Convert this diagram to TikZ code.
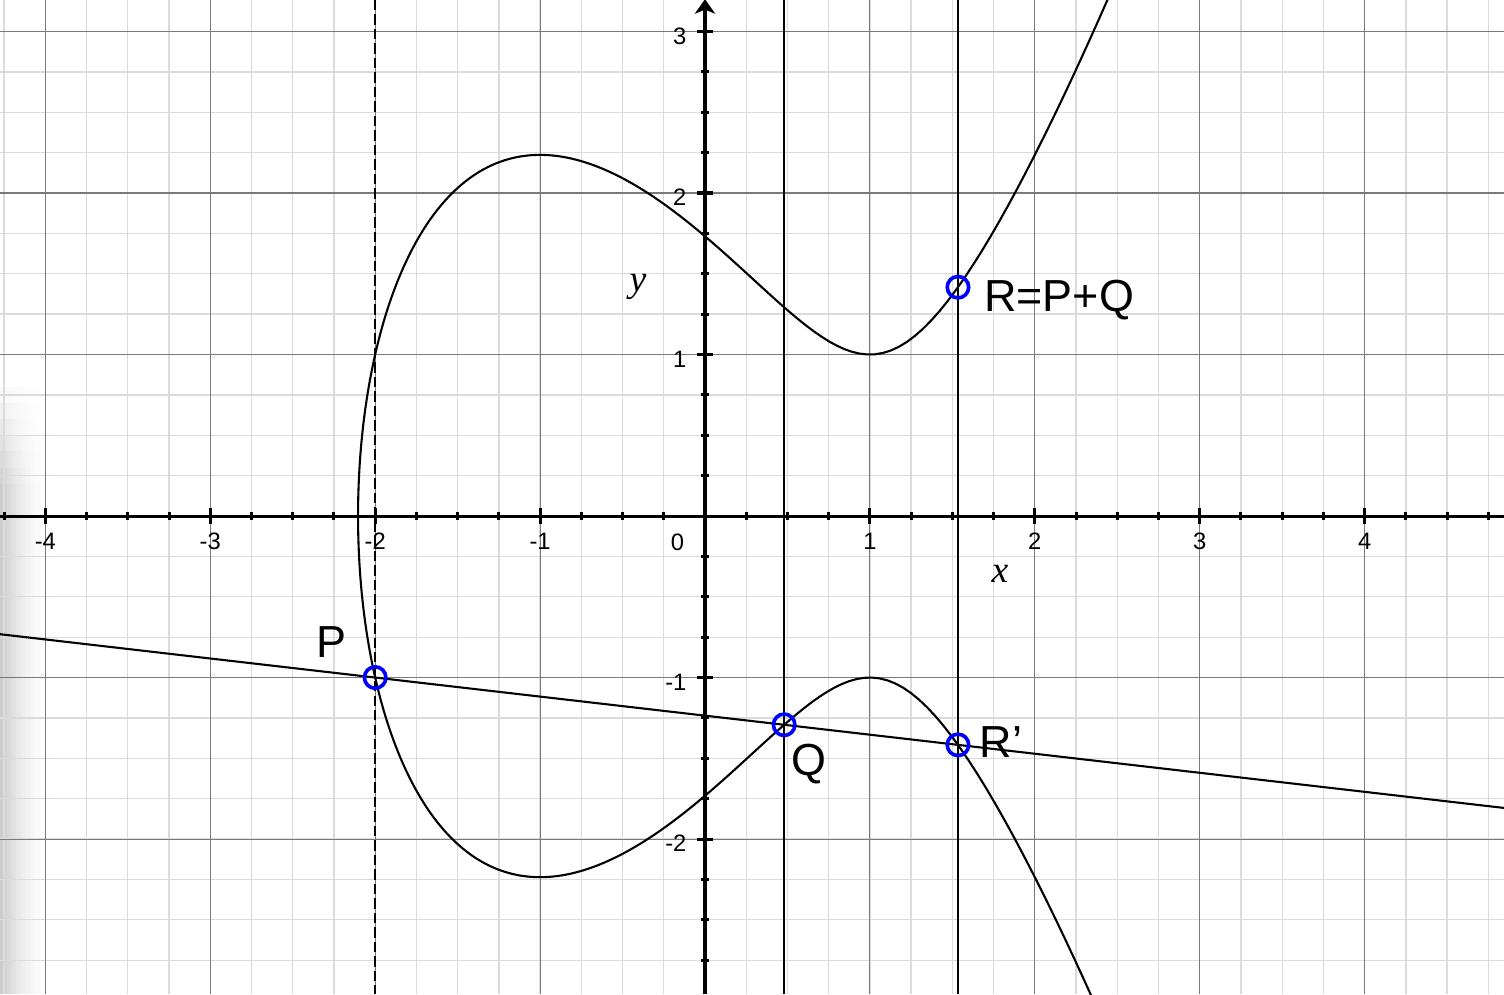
\documentclass[tikz,border=0pt]{standalone}
\usepackage{fontspec}
\setmainfont{Liberation Sans}
\newfontfamily\timesit{Liberation Serif}
\usetikzlibrary{arrows.meta}
\begin{document}
\begin{tikzpicture}[x=2cm,y=1.95876cm,
  declare function={fy(\x)=sqrt(max(\x*\x*\x-3*\x+3,0));},
  minorgrid/.style={draw=black!14,line width=0.45pt},
  majorgrid/.style={draw=black!52,line width=0.35pt},
  axisline/.style={line width=1.05pt},
  tickmark/.style={line width=1.05pt},
  curveline/.style={line width=0.72pt},
  vline/.style={line width=0.7pt},
  ptmark/.style={circle,draw=blue,line width=1.25pt,minimum size=7.4pt,inner sep=0pt},
  bigl/.style={font=\fontsize{15.5}{18}\selectfont,inner sep=0pt},
  tickl/.style={font=\fontsize{8.2}{10}\selectfont,inner sep=0pt},
  axl/.style={font=\fontsize{13}{15}\selectfont\timesit\itshape,inner sep=0pt}]
\useasboundingbox (-4.275,-2.96) rectangle (4.845,3.195);
\clip (-4.275,-2.96) rectangle (4.845,3.195);
% page shadow on the left edge (strips of decreasing grey)
\foreach \i in {0,...,15} {
  \pgfmathsetmacro{\xa}{-4.275+\i*0.02}
  \pgfmathsetmacro{\xb}{\xa+0.0205}
  \pgfmathsetmacro{\cv}{20*(1-\i/16)^2}
  \fill[black!\cv] (\xa,-2.96) rectangle (\xb,0.2);
  \foreach \j in {1,...,6} {
    \pgfmathsetmacro{\ya}{0.2+(\j-1)*0.1}
    \pgfmathsetmacro{\yb}{\ya+0.101}
    \pgfmathsetmacro{\cw}{\cv*(1-\j/7)}
    \fill[black!\cw] (\xa,\ya) rectangle (\xb,\yb);
  }
}
% grid
\draw[minorgrid,step=0.25] (-4.275,-2.96) grid (4.845,3.195);
\draw[majorgrid,step=1] (-4.275,-2.96) grid (4.845,3.195);
% named coordinates
\coordinate (VPt) at (-2,3.195);  \coordinate (VPb) at (-2,-2.96);
\coordinate (VQt) at (0.48,3.195); \coordinate (VQb) at (0.48,-2.96);
\coordinate (VRt) at (1.53391,3.195); \coordinate (VRb) at (1.53391,-2.96);
\coordinate (L1) at (-4.275,-0.73167); \coordinate (L2) at (4.845,-1.80735);
\coordinate (XA) at (-4.275,0); \coordinate (XB) at (4.845,0);
\coordinate (YA) at (0,-2.96); \coordinate (YB) at (0,3.2);
% vertical lines
\draw[vline,dash pattern=on 3.6pt off 1.4pt] (VPt) -- (VPb);
\draw[vline] (VQt) -- (VQb);
\draw[vline] (VRt) -- (VRb);
% elliptic curve y^2 = x^3 - 3x + 3
\draw[curveline] plot[domain=2.11:0,samples=160,variable=\t] ({-2.1038+\t*\t},{-fy(-2.1038+\t*\t)})
  -- plot[domain=0:2.135,samples=160,variable=\t] ({-2.1038+\t*\t},{fy(-2.1038+\t*\t)});
% secant line
\draw[curveline] (L1) -- (L2);
% axes
\draw[axisline] (XA) -- (XB);
\draw[axisline,-{Stealth[length=5pt,width=7pt,inset=1.4pt]}] (YA) -- (YB);
\foreach \i in {-17,...,19} \draw[tickmark] (\i/4,0) ++(0,-1.4pt) -- ++(0,2.8pt);
\foreach \k in {-4,-3,-2,-1,1,2,3,4} \draw[tickmark] (\k,0) ++(0,-2.6pt) -- ++(0,5.2pt);
\foreach \i in {-11,...,12} \draw[tickmark] (0,\i/4) ++(-1.4pt,0) -- ++(2.8pt,0);
\foreach \k in {-2,-1,1,2,3} \draw[tickmark] (0,\k) ++(-2.6pt,0) -- ++(5.2pt,0);
% tick labels
\foreach \k [count=\n] in {-4,-3,-2,-1,1,2,3,4}
  \node[tickl] (xl\n) at (\k,0) [yshift=-8.8pt] {\k};
\foreach \k [count=\n] in {-2,-1,1,2,3}
  \node[tickl,anchor=east] (yl\n) at (0,\k) [xshift=-6.2pt,yshift=-1.6pt] {\k};
\node[tickl] (zero) at (0,0) [xshift=-9.5pt,yshift=-9.1pt] {0};
% axis names
\node[axl,anchor=base] (ylab) at (-0.406,1.393) {y};
\node[axl,anchor=base] (xlab) at (1.789,-0.409) {x};
% points
\node[ptmark] (P) at (-2,-1) {};
\node[ptmark] (Q) at (0.48,-1.29251) {};
\node[ptmark] (Rp) at (1.53391,-1.41682) {};
\node[ptmark] (R) at (1.53391,1.41682) {};
% point labels
\node[bigl,anchor=base] (Plab) at (-2.262,-0.873) {P};
\node[bigl,anchor=base] (Qlab) at (0.631,-1.604) {Q};
\node[bigl,anchor=base] (Rplab) at (1.795,-1.492) {R’};
\node[bigl,anchor=base] (Rlab) at (2.147,1.269) {R=P+Q};
\end{tikzpicture}
\end{document}
